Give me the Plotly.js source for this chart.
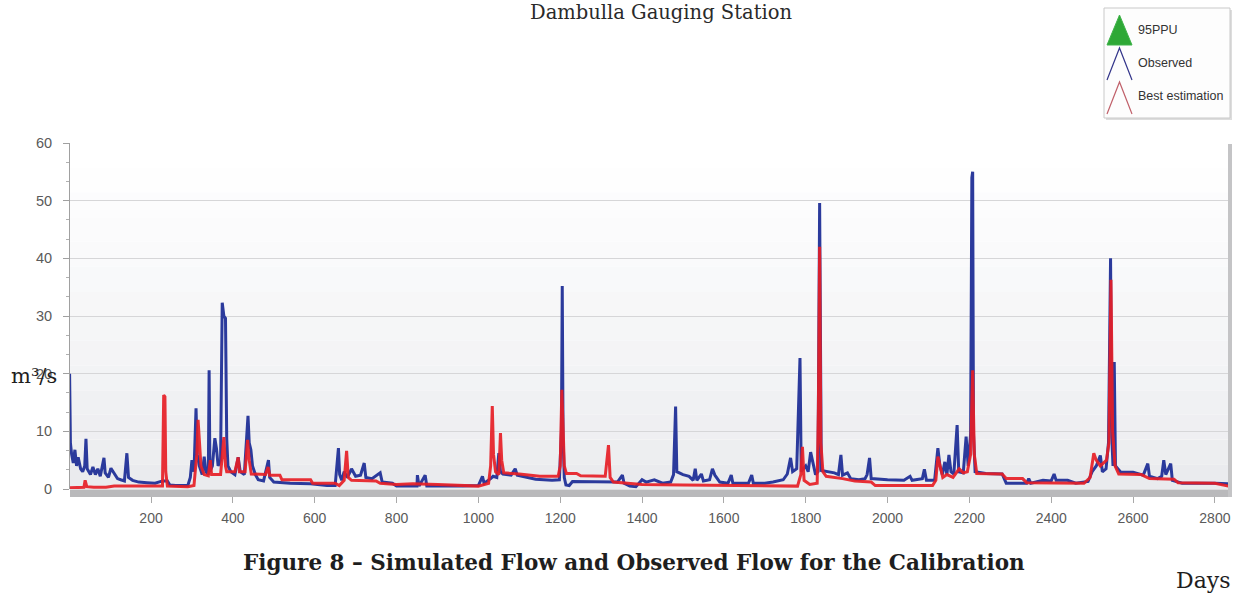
<!DOCTYPE html>
<html>
<head>
<meta charset="utf-8">
<script src="https://cdn.plot.ly/plotly-3.0.1.min.js"></script>
<style>
  html, body { margin: 0; padding: 0; background: #ffffff; }
  #chart { width: 1234px; height: 593px; }
</style>
</head>
<body>
<div id="chart"></div>
<script>
// ---------------- data ----------------
const chartTitle = "Dambulla Gauging Station";
const captionText = "Figure 8 \u2013 Simulated Flow and Observed Flow for the Calibration";
const xAxisLabel = "Days";
const yAxisLabel = "m\u00b3/s";
const legendLabels = ["95PPU", "Observed", "Best estimation"];

const xTickValues = [200, 400, 600, 800, 1000, 1200, 1400, 1600, 1800, 2000, 2200, 2400, 2600, 2800];
const yTickValues = [0, 10, 20, 30, 40, 50, 60];

// Observed flow (m3/s) – day / value pairs
const obsDays = [1,3,6,10,14,18,22,28,33,38,41,44,52,58,64,70,76,85,88,96,102,110,118,126,135,141,145,155,170,190,210,228,240,246,260,290,296,300,305,310,313,318,325,330,334,340,342,344,350,356,360,364,370,374,378,382,385,388,395,405,413,418,428,437,440,444,448,455,462,475,487,490,500,540,590,630,650,658,661,666,672,680,690,700,712,721,725,740,752,760,765,790,800,850,851,855,870,874,960,1000,1010,1014,1030,1036,1045,1050,1054,1060,1080,1090,1095,1120,1140,1180,1198,1203,1205,1207,1210,1214,1222,1230,1300,1340,1352,1356,1370,1385,1400,1410,1430,1450,1470,1477,1482,1485,1500,1515,1525,1530,1534,1545,1550,1565,1572,1578,1590,1610,1618,1622,1660,1668,1672,1700,1720,1745,1755,1763,1768,1778,1786,1789,1800,1806,1812,1818,1824,1830,1834,1838,1850,1870,1880,1886,1890,1902,1910,1930,1945,1950,1956,1960,2000,2040,2055,2060,2085,2090,2095,2115,2123,2128,2134,2140,2145,2150,2155,2162,2170,2174,2185,2192,2197,2203,2206,2208,2210,2214,2240,2280,2290,2340,2345,2350,2380,2400,2407,2412,2440,2460,2490,2500,2510,2520,2525,2534,2540,2545,2548,2551,2554,2557,2570,2600,2625,2636,2640,2660,2670,2675,2680,2686,2692,2696,2720,2800,2833];
const obsFlow = [20,8,6,4.5,6.8,4,5.5,3.5,3,4,8.7,3.5,2.5,3.8,2.5,3.5,2.2,5.4,2.8,2,3.6,2.6,1.8,1.6,1.4,6.2,2,1.5,1.2,1.1,1.0,1.4,1.4,0.7,0.6,0.6,2,5,3,14,6,4,2.5,5.6,3,2.5,20.6,3,4,8.8,7,4,5,32.3,30,29.6,8.8,4,3,2.5,5.5,3,2.5,12.7,8,6.8,4,2.5,1.6,1.4,5,2,1.2,1.0,0.9,0.6,0.6,7.1,2.5,1.5,3,2,3.5,2.2,2.4,4.5,2,1.8,2.5,2.8,1.2,1.0,0.5,0.5,2.4,0.5,2.4,0.5,0.5,0.6,2.2,1,1.8,2.2,2,6.2,3,2.6,2.4,3.5,2.4,2,1.7,1.5,1.6,10,35.2,9,2,0.7,0.6,1.3,1.2,1.2,2.4,1,0.5,0.4,1.6,1.2,1.6,1.0,1.2,2.5,14.3,3,2.5,2.2,1.5,3.5,1.5,2.6,1.4,1.6,3.5,2.4,1.2,1.0,2.4,1.0,1.0,2.4,1.0,1.0,1.2,1.6,2.6,5.4,3,3.5,22.7,3,4,3,6.4,4.2,2.5,3,49.6,3.2,3,2.8,2.5,5.9,2.4,2.8,1.8,1.6,1.8,2.5,5.4,1.8,1.6,1.5,2.2,1.5,1.8,3.4,1.5,1.5,7.1,4,2.5,4.7,2.5,5.9,3,2.6,11.1,3,2.8,9.1,4,9.6,54,55,9.6,3,2.7,2.6,1.0,1.0,1.8,1.0,1.5,1.4,2.6,1.5,1.5,1,1.3,3,4,5.8,3,3.5,8.1,40,9,4,22,4,2.9,2.9,2.4,4.4,2.2,1.8,2.2,5,2.5,3.5,4.4,1.5,1.0,1.0,0.9];

// Best estimation (simulated) flow (m3/s)
const simDays = [1,30,36,39,43,60,90,110,150,170,200,228,231,234,236,240,290,305,308,312,315,318,322,330,340,345,348,370,378,382,385,405,413,416,430,436,440,445,480,486,490,515,520,590,595,650,660,672,678,682,690,750,760,800,840,900,950,1000,1025,1030,1034,1037,1042,1050,1054,1057,1062,1100,1150,1195,1200,1204,1207,1210,1215,1240,1250,1310,1318,1322,1330,1360,1400,1500,1600,1700,1780,1788,1792,1796,1810,1828,1831,1834,1837,1842,1850,1890,1920,1960,1970,2110,2118,2123,2128,2135,2145,2160,2175,2185,2195,2203,2208,2212,2218,2280,2290,2330,2340,2480,2495,2504,2510,2520,2535,2541,2546,2550,2556,2565,2620,2640,2700,2710,2800,2833];
const simFlow = [0.2,0.2,0.3,1.5,0.4,0.3,0.3,0.5,0.5,0.4,0.4,0.5,16.3,16,3,0.5,0.4,0.6,3,6,12,8.5,4,2.5,2.3,5,2.5,2.5,9,4,3,3,5.5,3,3,8.5,5,2.6,2.5,3.8,2.4,2.4,1.6,1.6,1.0,1.0,0.6,1.5,6.6,2,1.5,1.4,1.0,0.8,0.9,0.8,0.6,0.5,1.0,4,14.4,6,3,2.5,9.7,5,2.8,2.6,2.2,2.2,4,17.2,10.8,4,2.7,2.7,2.3,2.2,7.6,2,1.2,1.0,0.8,0.7,0.6,0.5,0.5,2.5,7.3,1.5,0.8,1,14,42,8,3,2.2,1.8,1.4,1.2,0.6,0.6,1.5,5.6,4,2,2.5,2.0,3.5,2.8,3,6,20.6,6,2.7,2.6,1.8,1.8,1.1,1.0,2,6.2,5,4,5,8,36.3,10,4,2.6,2.5,1.8,1.7,1.1,1.0,0.5];

// ---------------- layout helpers (pixel -> paper) ----------------
const FIG_W = 1234, FIG_H = 593;
const PL = 70, PR = 1228, PT = 143, PB = 489;
const PW = PR - PL, PH = PB - PT;
const px = v => (v - PL) / PW;
const py = v => (PB - v) / PH;

const serif = "'DejaVu Serif', 'Liberation Serif', serif";
const sans = "'Liberation Sans', Arial, sans-serif";

const traces = [
  {
    x: obsDays, y: obsFlow, type: "scatter", mode: "lines", name: legendLabels[1],
    line: { color: "#2b3a9c", width: 3 }, hoverinfo: "skip"
  },
  {
    x: simDays, y: simFlow, type: "scatter", mode: "lines", name: legendLabels[2],
    line: { color: "rgba(230,30,38,0.92)", width: 3 }, hoverinfo: "skip"
  }
];

// background gradient bands inside the plot area
const shapes = [];
const nBands = 14;
for (let i = 0; i < nBands; i++) {
  const t = i / (nBands - 1);            // 0 bottom -> 1 top
  const c0 = [234, 235, 238], c1 = [255, 255, 255];
  const c = c0.map((a, k) => Math.round(a + (c1[k] - a) * Math.pow(t, 0.8)));
  shapes.push({
    type: "rect", xref: "paper", yref: "paper", layer: "below",
    x0: 0, x1: 1, y0: i / nBands, y1: (i + 1) / nBands,
    fillcolor: `rgb(${c[0]},${c[1]},${c[2]})`, line: { width: 0 }
  });
}
// grey base bar under the plot (x axis band)
shapes.push({ type: "rect", xref: "paper", yref: "paper", layer: "above",
  x0: px(PL), x1: px(PR + 2), y0: py(497), y1: py(489.5),
  fillcolor: "#b9b9bb", line: { width: 0 } });
// right frame shadow
shapes.push({ type: "rect", xref: "paper", yref: "paper", layer: "above",
  x0: px(PR), x1: px(PR + 4), y0: py(497), y1: py(PT + 1),
  fillcolor: "#c4c4c6", line: { width: 0 } });

// legend box
const LB = { x0: 1104, x1: 1230, y0: 8, y1: 118 };
shapes.push({ type: "rect", xref: "paper", yref: "paper", layer: "above",
  x0: px(LB.x0 + 2), x1: px(LB.x1 + 2), y0: py(LB.y1 + 2), y1: py(LB.y0 + 2),
  fillcolor: "#dddddd", line: { width: 0 } });
shapes.push({ type: "rect", xref: "paper", yref: "paper", layer: "above",
  x0: px(LB.x0), x1: px(LB.x1), y0: py(LB.y1), y1: py(LB.y0),
  fillcolor: "#fdfdfd", line: { color: "#c9c9c9", width: 1 } });
// legend icons: filled green triangle, open blue and red carets
function triPath(ax, ay, bx, by, cx, cy, close) {
  return `M ${px(bx)} ${py(by)} L ${px(ax)} ${py(ay)} L ${px(cx)} ${py(cy)}` + (close ? " Z" : "");
}
shapes.push({ type: "path", xref: "paper", yref: "paper", layer: "above",
  path: triPath(1119.5, 15, 1107, 45, 1132, 45, true),
  fillcolor: "#2ea836", line: { color: "#3fb34a", width: 1 } });
shapes.push({ type: "path", xref: "paper", yref: "paper", layer: "above",
  path: triPath(1119.5, 48, 1107, 80, 1132, 80, false),
  line: { color: "#33358a", width: 1.2 } });
shapes.push({ type: "path", xref: "paper", yref: "paper", layer: "above",
  path: triPath(1119.5, 82, 1107, 114, 1132, 114, false),
  line: { color: "#c0606a", width: 1.2 } });

const annotations = [
  { text: chartTitle, xref: "paper", yref: "paper", x: px(661), y: py(13), xanchor: "center", yanchor: "middle",
    showarrow: false, font: { family: serif, size: 19.5, color: "#2a2a2a" } },
  { text: "<b>" + captionText + "</b>", xref: "paper", yref: "paper", x: px(634), y: py(562), xanchor: "center", yanchor: "middle",
    showarrow: false, font: { family: serif, size: 21.5, color: "#1e1e1e" } },
  { text: xAxisLabel, xref: "paper", yref: "paper", x: px(1203), y: py(580), xanchor: "center", yanchor: "middle",
    showarrow: false, font: { family: serif, size: 22, color: "#1e1e1e" } },
  { text: yAxisLabel, xref: "paper", yref: "paper", x: px(34), y: py(376), xanchor: "center", yanchor: "middle",
    showarrow: false, font: { family: serif, size: 21, color: "#1e1e1e" } }
];
const legendTextY = [30, 63, 96];
legendLabels.forEach((t, i) => annotations.push({
  text: t, xref: "paper", yref: "paper", x: px(1136), y: py(legendTextY[i]), xanchor: "left", yanchor: "middle",
  showarrow: false, font: { family: sans, size: 12.5, color: "#333333" }
}));

const layout = {
  width: FIG_W, height: FIG_H,
  margin: { l: PL, r: FIG_W - PR, t: PT, b: FIG_H - PB, pad: 0 },
  paper_bgcolor: "#ffffff", plot_bgcolor: "#ffffff",
  showlegend: false, hovermode: false,
  xaxis: {
    range: [2, 2832], tickvals: xTickValues, ticktext: xTickValues.map(String),
    showgrid: false, zeroline: false, showline: false,
    ticks: "outside", ticklen: 13, tickcolor: "#a9a9a9", tickwidth: 1,
    ticklabelstandoff: 3,
    tickfont: { family: sans, size: 14, color: "#5a5a5a" }
  },
  yaxis: {
    range: [0, 60], tickvals: yTickValues, ticktext: yTickValues.map(String),
    showgrid: true, gridcolor: "#d6d6d8", gridwidth: 1, zeroline: false,
    showline: true, linecolor: "#a0a0a0", linewidth: 1,
    ticks: "outside", ticklen: 6, tickcolor: "#a0a0a0",
    minor: { dtick: 10 / 3, ticks: "outside", ticklen: 3, tickcolor: "#b0b0b0", showgrid: false },
    ticklabelstandoff: 8,
    tickfont: { family: sans, size: 14.5, color: "#5a5a5a" }
  },
  shapes: shapes,
  annotations: annotations
};

Plotly.newPlot("chart", traces, layout, { staticPlot: true, displayModeBar: false });
</script>
</body>
</html>
